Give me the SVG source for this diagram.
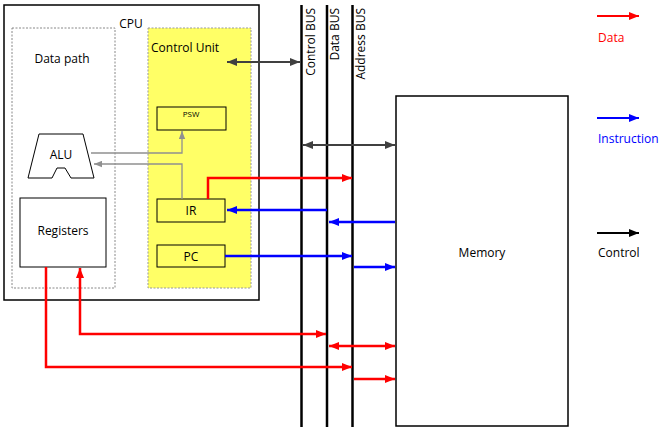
<svg xmlns="http://www.w3.org/2000/svg" width="664" height="427" viewBox="0 0 664 427">
<style>
text{font-family:"Open Sans","Liberation Sans",sans-serif;font-size:12px;fill:#000}
.box{fill:#fff;stroke:#000;stroke-width:1}
.ybox{fill:#ffff66;stroke:#000;stroke-width:1}
.bus{stroke:#000;stroke-width:2.5}
.r{stroke:#ff0000;stroke-width:2.5;fill:none}
.b{stroke:#0000ff;stroke-width:2.5;fill:none}
.k{stroke:#404040;stroke-width:2;fill:none}
.g{stroke:#909090;stroke-width:1.3;fill:none}
</style>
<defs>
<marker id="mr" viewBox="0 0 10 8" refX="10" refY="4" markerWidth="11" markerHeight="8" orient="auto-start-reverse" markerUnits="userSpaceOnUse"><path d="M0,0L10,4L0,8z" fill="#ff0000"/></marker>
<marker id="mb" viewBox="0 0 10 8" refX="10" refY="4" markerWidth="11" markerHeight="8" orient="auto-start-reverse" markerUnits="userSpaceOnUse"><path d="M0,0L10,4L0,8z" fill="#0000ff"/></marker>
<marker id="mk" viewBox="0 0 10 8" refX="10" refY="4" markerWidth="11" markerHeight="8" orient="auto-start-reverse" markerUnits="userSpaceOnUse"><path d="M0,0L10,4L0,8z" fill="#404040"/></marker>
<marker id="mK" viewBox="0 0 10 8" refX="10" refY="4" markerWidth="11" markerHeight="8" orient="auto-start-reverse" markerUnits="userSpaceOnUse"><path d="M0,0L10,4L0,8z" fill="#000"/></marker>
<marker id="mg" viewBox="0 0 10 8" refX="10" refY="4" markerWidth="8" markerHeight="7" orient="auto-start-reverse" markerUnits="userSpaceOnUse"><path d="M0,0L10,4L0,8z" fill="#909090"/></marker>
</defs>

<g id="cpu">
<rect x="4" y="5" width="255" height="295" fill="#fff" stroke="#000" stroke-width="1.5"/>
<text x="131" y="28" text-anchor="middle">CPU</text>
</g>
<g id="datapath">
<rect x="12" y="28" width="103" height="260" fill="none" stroke="#888" stroke-width="1" stroke-dasharray="2,1.5"/>
<text x="62" y="63" text-anchor="middle">Data path</text>
</g>
<g id="controlunit">
<rect x="148" y="28" width="103" height="260" fill="#ffff66" stroke="#999" stroke-width="1" stroke-dasharray="2,1.5"/>
<text x="151" y="52">Control Unit</text>
</g>
<g id="psw">
<rect class="ybox" x="157" y="107" width="69" height="23"/>
<text x="191" y="117" text-anchor="middle" font-size="8" style="font-size:8px">PSW</text>
</g>
<g id="alu">
<polygon points="39,134 83,134 94,178 71,178 65,168 57,168 52,178 28,178" fill="#fff" stroke="#000" stroke-width="1"/>
<text x="61" y="159" text-anchor="middle">ALU</text>
</g>
<g id="registers">
<rect class="box" x="20" y="198" width="86" height="69"/>
<text x="63" y="235" text-anchor="middle">Registers</text>
</g>
<g id="ir">
<rect class="ybox" x="157" y="199" width="68" height="23"/>
<text x="191" y="215" text-anchor="middle">IR</text>
</g>
<g id="pc">
<rect class="ybox" x="157" y="245" width="68" height="22"/>
<text x="191" y="261" text-anchor="middle">PC</text>
</g>
<g id="memory">
<rect x="396" y="96" width="172" height="330" fill="#fff" stroke="#000" stroke-width="1.5"/>
<text x="482" y="257" text-anchor="middle">Memory</text>
</g>
<g id="buses">
<line class="bus" x1="301.5" y1="5" x2="301.5" y2="427"/>
<line class="bus" x1="327" y1="5" x2="327" y2="427"/>
<line class="bus" x1="352.5" y1="5" x2="352.5" y2="427"/>
<text transform="translate(315,8) rotate(-90)" text-anchor="end">Control BUS</text>
<text transform="translate(339,8) rotate(-90)" text-anchor="end">Data BUS</text>
<text transform="translate(365,8) rotate(-90)" text-anchor="end">Address BUS</text>
</g>
<g id="legend">
<line x1="597" y1="16" x2="639" y2="16" stroke="#ff0000" stroke-width="2" marker-end="url(#mr)"/>
<text x="598" y="42" style="fill:#ff0000">Data</text>
<line x1="597" y1="118" x2="639" y2="118" stroke="#0000ff" stroke-width="2" marker-end="url(#mb)"/>
<text x="598" y="143" style="fill:#0000ff">Instruction</text>
<line x1="597" y1="233" x2="639" y2="233" stroke="#000" stroke-width="2" marker-end="url(#mK)"/>
<text x="598" y="257">Control</text>
</g>
<g id="connectors">
<line class="k" x1="227" y1="62" x2="300" y2="62" marker-start="url(#mk)" marker-end="url(#mk)"/>
<line class="k" x1="303" y1="145" x2="395" y2="145" marker-start="url(#mk)" marker-end="url(#mk)"/>
<polyline class="g" points="91,153 182,153 182,131" marker-end="url(#mg)"/>
<polyline class="g" points="182,199 182,164 94,164" marker-end="url(#mg)"/>
<polyline class="r" points="208,199 208,178 352,178" marker-end="url(#mr)"/>
<line class="b" x1="327" y1="210" x2="227" y2="210" marker-end="url(#mb)"/>
<line class="b" x1="395" y1="222" x2="329" y2="222" marker-end="url(#mb)"/>
<line class="b" x1="225" y1="256" x2="352" y2="256" marker-end="url(#mb)"/>
<line class="b" x1="354" y1="267" x2="395" y2="267" marker-end="url(#mb)"/>
<polyline class="r" points="326,334 80,334 80,268" marker-start="url(#mr)" marker-end="url(#mr)"/>
<line class="r" x1="329" y1="346" x2="395" y2="346" marker-start="url(#mr)" marker-end="url(#mr)"/>
<polyline class="r" points="46,267 46,367 352,367" marker-end="url(#mr)"/>
<line class="r" x1="354" y1="379" x2="395" y2="379" marker-end="url(#mr)"/>
</g>
</svg>
